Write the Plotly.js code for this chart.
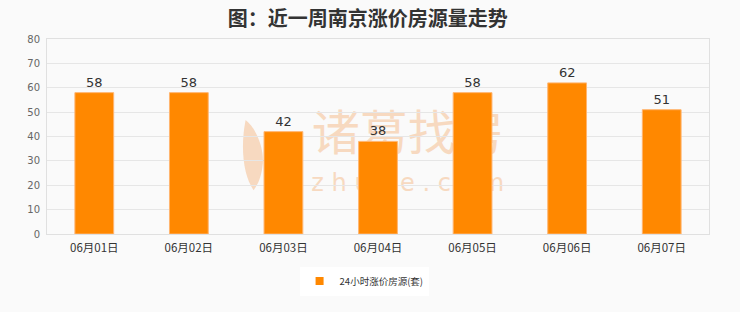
<!DOCTYPE html>
<html>
<head>
<meta charset="utf-8">
<script src="https://cdn.plot.ly/plotly-3.0.1.min.js"></script>
<style>
  html, body { margin: 0; padding: 0; background: #fafafa; }
  #chart { width: 740px; height: 312px; }
</style>
</head>
<body>
<div id="chart"></div>
<script>
// Daily count of Nanjing listings with a price increase over the last week
const dates = ['06月01日', '06月02日', '06月03日', '06月04日', '06月05日', '06月06日', '06月07日'];
const priceUpListings = [58, 58, 42, 38, 58, 62, 51];
const seriesName = '24小时涨价房源(套)';
const chartTitle = '图：近一周南京涨价房源量走势';
const brandName = '诸葛找房';
const brandSite = 'z h u g e . c o m';

const cjk = '"Noto Sans CJK SC", "Noto Sans", sans-serif';
const brandTint = '#f7d9c0';
const barColor = '#ff8800';

const bars = {
  type: 'bar',
  x: dates,
  y: priceUpListings,
  name: seriesName,
  showlegend: false,
  marker: { color: barColor, line: { color: '#ffb570', width: 1 } },
  text: priceUpListings.map(String),
  textposition: 'outside',
  cliponaxis: false,
  textfont: { family: '"DejaVu Sans", sans-serif', size: 13, color: '#333333' },
  hoverinfo: 'x+y'
};

// Legend entry with a small square key for the bar series
const legendKey = {
  type: 'scatter',
  mode: 'markers',
  x: [null],
  y: [null],
  name: seriesName,
  marker: { symbol: 'square', size: 8, color: barColor },
  hoverinfo: 'skip'
};

// Brand mark sits under the bars (shape layer "below")
const feather = 'M 0.312,0.225 C 0.296,0.30 0.292,0.45 0.300,0.585 ' +
                'C 0.314,0.55 0.328,0.45 0.326,0.36 C 0.324,0.29 0.318,0.25 0.312,0.225 Z';

const layout = {
  width: 740,
  height: 312,
  paper_bgcolor: '#fafafa',
  plot_bgcolor: '#fafafa',
  margin: { l: 47, r: 31, t: 39, b: 78 },
  title: {
    text: '<b>' + chartTitle + '</b>',
    font: { family: cjk, size: 20, color: '#333333' },
    x: 0.497, xanchor: 'center',
    y: 0.94, yanchor: 'middle'
  },
  bargap: 0.59,
  xaxis: {
    type: 'category',
    showgrid: false,
    showline: true,
    mirror: true,
    linecolor: '#e0e0e0',
    linewidth: 1,
    ticks: '',
    ticklabelstandoff: 3,
    tickfont: { family: cjk, size: 11.5, color: '#333333' },
    fixedrange: true
  },
  yaxis: {
    range: [0, 80],
    dtick: 10,
    showgrid: true,
    gridcolor: '#e6e6e6',
    gridwidth: 1,
    showline: true,
    mirror: true,
    linecolor: '#e0e0e0',
    zeroline: false,
    ticks: '',
    ticklabelstandoff: 4,
    tickfont: { family: '"DejaVu Sans", sans-serif', size: 10, color: '#666666' },
    fixedrange: true
  },
  showlegend: true,
  legend: {
    orientation: 'h',
    xref: 'container', yref: 'container',
    x: 0.492, xanchor: 'center',
    y: 0.099, yanchor: 'middle',
    bgcolor: '#ffffff',
    font: { family: cjk, size: 9.5, color: '#333333' },
    itemwidth: 30
  },
  shapes: [
    {
      type: 'rect', xref: 'paper', yref: 'paper', layer: 'below',
      x0: 0.385, x1: 0.705, y0: 0.38, y1: 0.62,
      line: { width: 0 }, fillcolor: 'rgba(0,0,0,0)',
      label: { text: brandName, font: { family: cjk, size: 48, color: brandTint },
               textposition: 'middle center' }
    },
    {
      type: 'rect', xref: 'paper', yref: 'paper', layer: 'below',
      x0: 0.385, x1: 0.705, y0: 0.20, y1: 0.34,
      line: { width: 0 }, fillcolor: 'rgba(0,0,0,0)',
      label: { text: brandSite, font: { family: '"DejaVu Sans", sans-serif', size: 24, color: brandTint },
               textposition: 'middle center' }
    },
    {
      type: 'path', xref: 'paper', yref: 'paper', layer: 'below',
      path: feather, fillcolor: brandTint, line: { width: 0 }
    }
  ]
};

Plotly.newPlot('chart', [bars, legendKey], layout, { displayModeBar: false, staticPlot: true });
</script>
</body>
</html>
